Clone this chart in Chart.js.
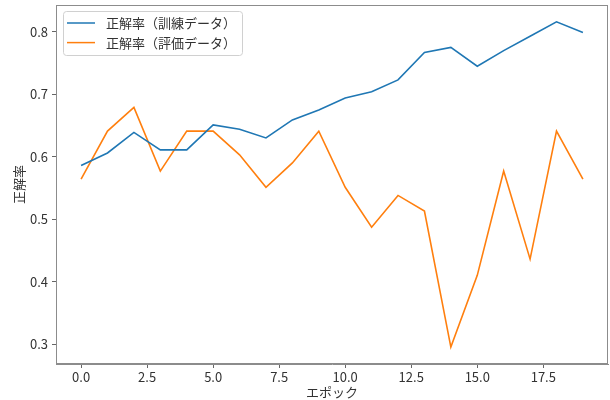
<!DOCTYPE html>
<html>
<head>
<meta charset="utf-8">
<script src="https://cdn.jsdelivr.net/npm/chart.js@4"></script>
<style>
  html, body { margin: 0; padding: 0; background: #fff; }
  #wrap { width: 610px; height: 400px; }
</style>
</head>
<body>
<div id="wrap"><canvas id="c" width="610" height="400"></canvas></div>
<script>
// Accuracy per epoch, training and validation
const epochs = [0, 1, 2, 3, 4, 5, 6, 7, 8, 9, 10, 11, 12, 13, 14, 15, 16, 17, 18, 19];
const trainAcc = [0.586, 0.606, 0.639, 0.611, 0.611, 0.651, 0.644, 0.630, 0.659, 0.675,
                  0.694, 0.704, 0.723, 0.767, 0.775, 0.745, 0.770, 0.793, 0.816, 0.799];
const valAcc = [0.564, 0.641, 0.679, 0.577, 0.641, 0.641, 0.603, 0.551, 0.590, 0.641,
                0.551, 0.487, 0.538, 0.513, 0.295, 0.410, 0.577, 0.436, 0.641, 0.564];
const xTicks = [0, 2.5, 5, 7.5, 10, 12.5, 15, 17.5];
const yTicks = [0.3, 0.4, 0.5, 0.6, 0.7, 0.8];
const seriesLabels = ['正解率（訓練データ）', '正解率（評価データ）'];
const xTitle = 'エポック';
const yTitle = '正解率';

const FONT = "'Noto Sans CJK JP', 'Noto Sans', sans-serif";
const FONT_SIZE = 13;
const TEXT = '#333';
const SPINE = '#8c8c8c';
const TICK = '#666';

const toPoints = vals => epochs.map((e, i) => ({ x: e, y: vals[i] }));

// Box around the plotting area (top and right sides included)
const frame = {
  id: 'frame',
  afterDatasetsDraw(chart) {
    const { ctx, chartArea: a } = chart;
    ctx.save();
    ctx.strokeStyle = SPINE;
    ctx.lineWidth = 1;
    ctx.strokeRect(Math.round(a.left) + 0.5, Math.round(a.top) + 0.5,
                   Math.round(a.right - a.left) - 1, Math.round(a.bottom - a.top) - 1);
    ctx.restore();
  }
};

// Framed legend in the upper-left corner of the plot
const cornerLegend = {
  id: 'cornerLegend',
  afterDraw(chart) {
    const { ctx, chartArea: a } = chart;
    const sets = chart.data.datasets;
    const x0 = a.left + 7, y0 = a.top + 6;
    const w = 179, rowH = 19.6, h = 44;
    ctx.save();
    ctx.beginPath();
    ctx.roundRect(x0 + 0.5, y0 + 0.5, w, h, 3);
    ctx.fillStyle = 'rgba(255,255,255,0.8)';
    ctx.fill();
    ctx.strokeStyle = '#d0d0d0';
    ctx.lineWidth = 1;
    ctx.stroke();
    ctx.font = FONT_SIZE + 'px ' + FONT;
    ctx.textBaseline = 'middle';
    ctx.textAlign = 'left';
    sets.forEach((ds, i) => {
      const cy = y0 + 12 + i * rowH;
      ctx.strokeStyle = ds.borderColor;
      ctx.lineWidth = 1.5;
      ctx.beginPath();
      ctx.moveTo(x0 + 4, cy);
      ctx.lineTo(x0 + 32, cy);
      ctx.stroke();
      ctx.fillStyle = TEXT;
      ctx.fillText(ds.label, x0 + 43, cy);
    });
    ctx.restore();
  }
};

new Chart(document.getElementById('c'), {
  type: 'line',
  data: {
    datasets: [
      { label: seriesLabels[0], data: toPoints(trainAcc), borderColor: '#1f77b4',
        borderWidth: 1.6, pointRadius: 0, tension: 0, fill: false },
      { label: seriesLabels[1], data: toPoints(valAcc), borderColor: '#ff7f0e',
        borderWidth: 1.6, pointRadius: 0, tension: 0, fill: false }
    ]
  },
  options: {
    responsive: false,
    animation: false,
    devicePixelRatio: 1,
    layout: { padding: { top: 5, right: 2, left: 0, bottom: 0 } },
    plugins: { legend: { display: false }, tooltip: { enabled: false } },
    scales: {
      x: {
        type: 'linear',
        min: -0.95, max: 19.95,
        afterBuildTicks: s => { s.ticks = xTicks.map(v => ({ value: v })); },
        afterFit: s => { s.height = 36; s.paddingLeft = 0; s.paddingRight = 0; },
        grid: { drawOnChartArea: false, drawTicks: true, tickLength: 4, color: TICK },
        border: { display: true, color: SPINE },
        ticks: {
          autoSkip: false, maxRotation: 0, padding: 1,
          color: TEXT, font: { family: FONT, size: FONT_SIZE },
          callback: v => Number(v).toFixed(1)
        },
        title: { display: true, text: xTitle, color: TEXT,
                 font: { family: FONT, size: FONT_SIZE }, padding: { top: 0, bottom: 0 } }
      },
      y: {
        type: 'linear',
        min: 0.268, max: 0.843,
        afterBuildTicks: s => { s.ticks = yTicks.map(v => ({ value: v })); },
        afterFit: s => { s.width = 56; s.paddingTop = 0; s.paddingBottom = 0; },
        grid: { drawOnChartArea: false, drawTicks: true, tickLength: 4, color: TICK },
        border: { display: true, color: SPINE },
        ticks: {
          autoSkip: false, padding: 4,
          color: TEXT, font: { family: FONT, size: FONT_SIZE },
          callback: v => Number(v).toFixed(1)
        },
        title: { display: true, text: yTitle, color: TEXT,
                 font: { family: FONT, size: FONT_SIZE }, padding: { top: 11, bottom: 0 } }
      }
    }
  },
  plugins: [frame, cornerLegend]
});
</script>
</body>
</html>
